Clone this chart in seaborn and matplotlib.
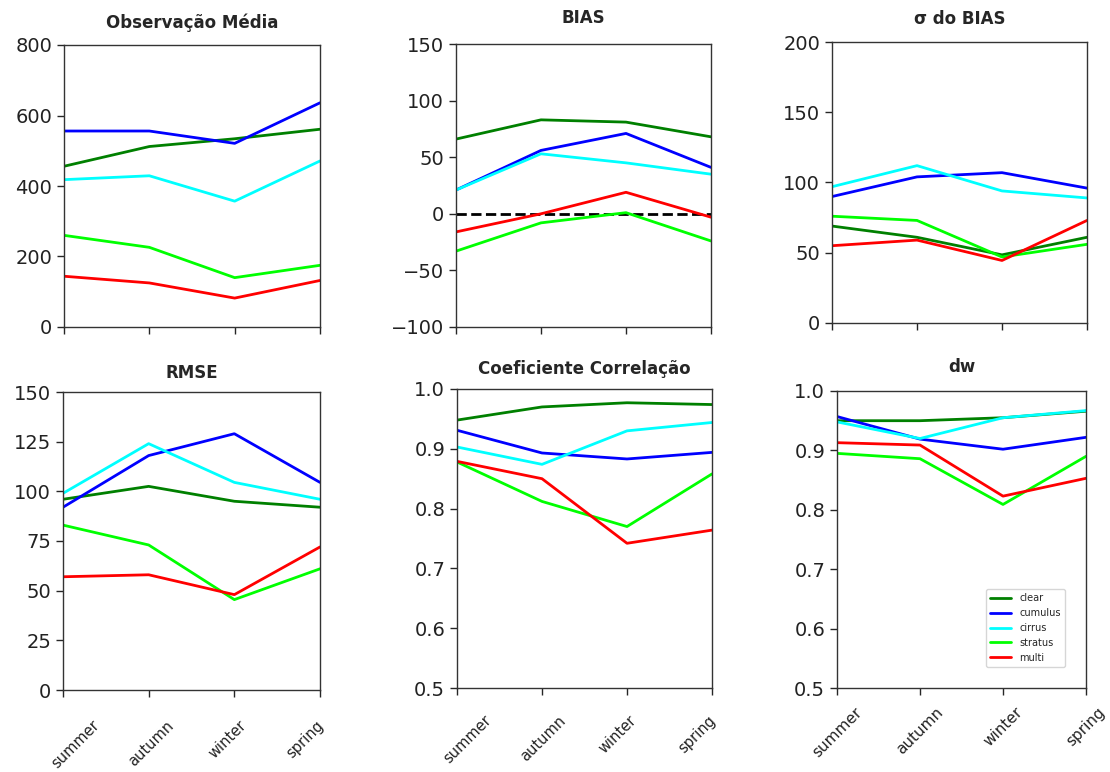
import matplotlib
matplotlib.use("Agg")
import matplotlib.pyplot as plt
import matplotlib.transforms as mtransforms
import seaborn as sns
import pandas as pd

seasons = ["summer", "autumn", "winter", "spring"]
clouds = ["clear", "cumulus", "cirrus", "stratus", "multi"]
colors = {"clear": "green", "cumulus": "blue", "cirrus": "cyan",
          "stratus": "lime", "multi": "red"}

obs_media = {
    "clear":   [456, 512, 534, 561],
    "cumulus": [556, 556, 521, 636],
    "cirrus":  [418, 429, 357, 471],
    "stratus": [260, 226, 140, 175],
    "multi":   [144, 125, 82, 132],
}
bias = {
    "clear":   [66, 83, 81, 68],
    "cumulus": [21, 56, 71, 41],
    "cirrus":  [21, 53, 45, 35],
    "stratus": [-33, -8, 1, -24],
    "multi":   [-16, 0, 19, -3],
}
sigma_bias = {
    "clear":   [69, 61, 48.5, 61],
    "cumulus": [90, 104, 107, 96],
    "cirrus":  [97, 112, 94, 89],
    "stratus": [76, 73, 47, 56],
    "multi":   [55, 59, 44.5, 73],
}
rmse = {
    "clear":   [96, 102.5, 95, 92],
    "cumulus": [92, 118, 129, 104.5],
    "cirrus":  [99, 124, 104.5, 96],
    "stratus": [83, 73, 45.5, 61],
    "multi":   [57, 58, 48, 72],
}
correlacao = {
    "clear":   [0.948, 0.970, 0.977, 0.974],
    "cumulus": [0.931, 0.893, 0.883, 0.894],
    "cirrus":  [0.903, 0.874, 0.930, 0.944],
    "stratus": [0.878, 0.812, 0.770, 0.858],
    "multi":   [0.879, 0.850, 0.742, 0.764],
}
dw = {
    "clear":   [0.950, 0.950, 0.955, 0.966],
    "cumulus": [0.957, 0.919, 0.902, 0.922],
    "cirrus":  [0.948, 0.920, 0.955, 0.967],
    "stratus": [0.895, 0.886, 0.809, 0.890],
    "multi":   [0.913, 0.909, 0.823, 0.853],
}

titles = ["Observação Média", "BIAS", "σ do BIAS",
          "RMSE", "Coeficiente Correlação", "dw"]
metrics = [obs_media, bias, sigma_bias, rmse, correlacao, dw]
ylims = [(0, 800), (-100, 150), (0, 200), (0, 150), (0.5, 1.0), (0.5, 1.0)]
yticks = [range(0, 801, 200), range(-100, 151, 50), range(0, 201, 50),
          range(0, 151, 25), [0.5, 0.6, 0.7, 0.8, 0.9, 1.0],
          [0.5, 0.6, 0.7, 0.8, 0.9, 1.0]]

W, H = 1110, 772
# axes boxes in pixels: left, top, right, bottom
boxes = [(64, 45, 320, 327), (456, 44, 711, 327), (832, 42, 1087, 323),
         (63, 392, 320, 690), (457, 389, 712, 688), (837, 391, 1086, 688)]
title_pads = [12, 15, 13, 10, 11, 14]
# per-label pixel offsets (dx list, dy, font size) for the bottom-row season labels
label_offsets = {3: ([12, 2, -7, -15], -16, 10.5),
                 4: ([10, 1, -9, -15], -13, 10.5),
                 5: ([0, 0, 0, 0], -5, 11)}


def to_long(metric):
    rows = []
    for c in clouds:
        for s, v in zip(seasons, metric[c]):
            rows.append({"season": s, "cloud": c, "value": v})
    return pd.DataFrame(rows)


sns.set_style("ticks")
plt.rcParams["font.family"] = ["DejaVu Sans"]
fig = plt.figure(figsize=(W / 100, H / 100), dpi=100)

for i, (metric, title) in enumerate(zip(metrics, titles)):
    l, t, r, b = boxes[i]
    ax = fig.add_axes([l / W, 1 - b / H, (r - l) / W, (b - t) / H])
    df = to_long(metric)
    sns.lineplot(data=df, x="season", y="value", hue="cloud",
                 hue_order=clouds, palette=colors, linewidth=2,
                 ax=ax, legend=(i == 5), sort=False)
    if i == 1:
        ax.axhline(0, color="black", linestyle="--", linewidth=2, zorder=1)
    ax.set_xlim(0, 3)
    ax.set_ylim(*ylims[i])
    ax.set_yticks(list(yticks[i]))
    if i >= 4:
        ax.set_yticklabels([f"{v:.1f}" for v in yticks[i]])
    ax.set_xticks(range(4))
    ax.tick_params(axis="y", labelsize=14, labelcolor="#222222")
    ax.tick_params(length=5, width=1)
    if i >= 3:
        dxs, dy, fs = label_offsets[i]
        ax.set_xticklabels(seasons, rotation=45, fontsize=fs, color="#222222")
        for lab, dx in zip(ax.get_xticklabels(), dxs):
            shift = mtransforms.ScaledTranslation(dx / 100, dy / 100,
                                                  fig.dpi_scale_trans)
            lab.set_transform(lab.get_transform() + shift)
    else:
        ax.set_xticklabels([])
    for sp in ax.spines.values():
        sp.set_visible(True)
        sp.set_linewidth(1)
        sp.set_color("#333333")
    ax.set_xlabel("")
    ax.set_ylabel("")
    ax.set_title(title, fontsize=12, fontweight="bold", pad=title_pads[i])
    if i == 5:
        leg = ax.legend(loc="lower right", fontsize=7, frameon=True,
                        borderaxespad=2.2, handlelength=2.2)
        leg.get_frame().set_edgecolor("#cccccc")
        for line in leg.get_lines():
            line.set_linewidth(2)

fig.savefig("out.png", dpi=100)
